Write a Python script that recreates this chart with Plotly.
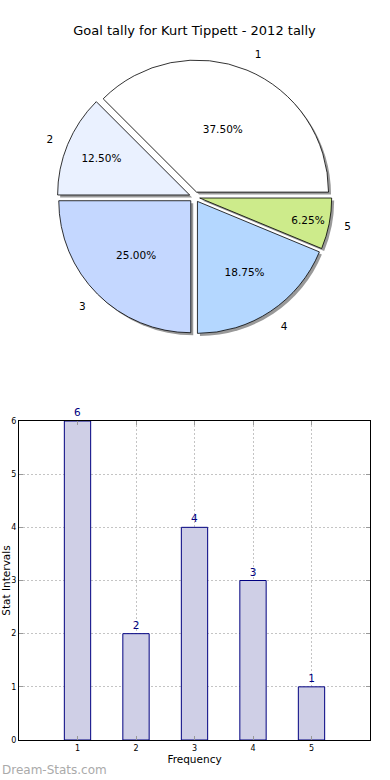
import plotly.graph_objects as go

# ---- data ----
pie_labels = ["1", "2", "3", "4", "5"]
pie_values = [6, 2, 4, 3, 1]
pie_colors = ["#ffffff", "#eaf1ff", "#c4d7ff", "#b4d7ff", "#cdeb8b"]

bar_x = [1, 2, 3, 4, 5]
bar_y = [6, 2, 4, 3, 1]
y_ticks = [0, 1, 2, 3, 4, 5, 6]
x_ticks = [1, 2, 3, 4, 5]

title_text = "Goal tally for Kurt Tippett - 2012 tally"
FONT = "DejaVu Sans"

W, H = 390, 780
ML, MR, MT, MB = 19, 20, 0, 40
PW = W - ML - MR
PH = H - MT - MB

pull = 0.04
r = 132
cy = (PH - 197) / PH


def dom(scale=1.0, sx=0.0, sy=0.0):
    box = 2 * r * scale * (1 + pull)
    hh = box / 2 / PH
    return dict(x=[0.02 + sx / PW, 0.98 + sx / PW], y=[cy - hh - sy / PH, cy + hh - sy / PH])


common = dict(
    labels=pie_labels, values=pie_values, sort=False,
    direction="counterclockwise", rotation=-45,
    pull=[pull] * 5, showlegend=False, hoverinfo="skip",
)

fig = go.Figure()
# shadow
fig.add_trace(go.Pie(
    **common, domain=dom(1.0, 2.5, 2.5),
    marker=dict(colors=["#999999"] * 5, line=dict(width=0)),
    textinfo="none",
))
# main pie
fig.add_trace(go.Pie(
    **common, domain=dom(),
    marker=dict(colors=pie_colors, line=dict(color="#000000", width=0.8)),
    texttemplate="%{percent:.2%}",
    textposition="inside",
    insidetextorientation="horizontal",
    textfont=dict(family=FONT, size=10.5, color="#000000"),
))
# outside labels
fig.add_trace(go.Pie(
    **common, domain=dom(1.09),
    marker=dict(colors=["rgba(0,0,0,0)"] * 5, line=dict(width=0)),
    texttemplate="%{label}",
    textposition="outside",
    textfont=dict(family=FONT, size=10.5, color="#000000"),
))

fig.add_trace(go.Bar(
    x=bar_x, y=bar_y, width=0.45,
    marker=dict(color="#cfcfe6", line=dict(color="#000080", width=1)),
    text=[str(v) for v in bar_y], textposition="outside",
    textfont=dict(family=FONT, size=10.5, color="#000080"),
    cliponaxis=False, showlegend=False, hoverinfo="skip",
))

grid = dict(showgrid=True, gridcolor="#c4c4c4", griddash="2px,2px", gridwidth=1,
            showline=True, mirror="ticks", linecolor="#000000", linewidth=1,
            ticks="inside", ticklen=4, tickcolor="#999999",
            tickfont=dict(family=FONT, size=8), zeroline=False, automargin=False)

fig.update_layout(
    width=W, height=H, template="none",
    margin=dict(l=ML, r=MR, t=MT, b=MB),
    paper_bgcolor="#ffffff", plot_bgcolor="#ffffff",
    font=dict(family=FONT, color="#000000"),
    title=dict(text=title_text, x=0.5, xref="paper", xanchor="center",
               y=1 - 30 / H, yref="container", yanchor="middle",
               font=dict(family=FONT, size=13, color="#000000")),
    xaxis=dict(range=[0, 6], tickvals=x_ticks, ticktext=[str(t) for t in x_ticks], **grid,
               title=dict(text="Frequency", font=dict(family=FONT, size=10.5), standoff=4)),
    yaxis=dict(domain=[0, (PH - 421) / PH], range=[0, 6], tickvals=y_ticks, **grid,
               title=dict(text="Stat Intervals", font=dict(family=FONT, size=10.5), standoff=6)),
    annotations=[dict(text="Dream-Stats.com", x=0, y=-30 / PH, xref="paper", yref="paper",
                      xanchor="left", yanchor="middle", showarrow=False, xshift=-ML,
                      font=dict(family=FONT, size=12, color="#aaaaaa"))],
)

fig.write_html("out.html", config={"displayModeBar": False},
               post_script="document.body.style.margin='0';")
